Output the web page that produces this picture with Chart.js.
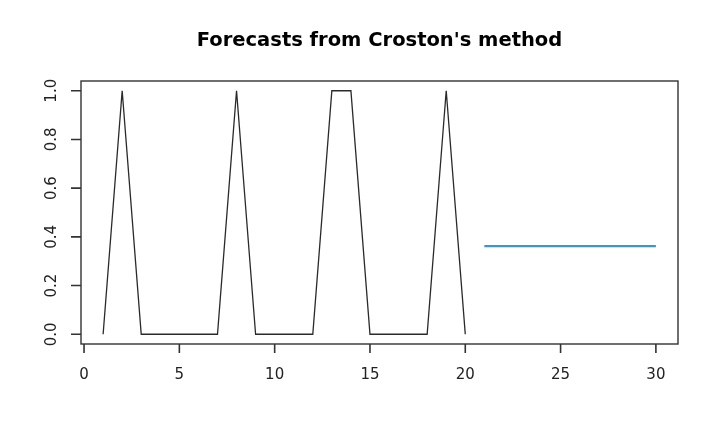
<!DOCTYPE html>
<html lang="en">
<head>
    <meta charset="UTF-8">
    <title>Forecasts from Croston's method</title>
    <script src="https://cdn.jsdelivr.net/npm/chart.js@4.4.1/dist/chart.umd.min.js"></script>
</head>
<style>
    html, body {
        margin: 0;
        padding: 0;
        background: #ffffff;
    }
    .wrap {
        position: relative;
        width: 720px;
        height: 445px;
    }
</style>
<body>
    <div class="wrap">
        <canvas id="myChart" width="720" height="445"></canvas>
    </div>

    <script>
        // observed series (t = 1..20)
        const timeObs = [1,2,3,4,5,6,7,8,9,10,11,12,13,14,15,16,17,18,19,20]
        const valuesObs = [0,1,0,0,0,0,0,1,0,0,0,0,1,1,0,0,0,0,1,0]
        // forecast (t = 21..30)
        const timeFc = [21,22,23,24,25,26,27,28,29,30]
        const valuesFc = [0.362,0.362,0.362,0.362,0.362,0.362,0.362,0.362,0.362,0.362]

        const xTicks = [0,5,10,15,20,25,30]
        const yTicks = [0,0.2,0.4,0.6,0.8,1.0]
        const title = "Forecasts from Croston's method"

        const toPoints = (xs, ys) => xs.map((x, i) => ({ x: x, y: ys[i] }))

        const family = "'DejaVu Sans', sans-serif"

        // R style box, axis lines, tick marks, rotated y labels and the title
        const rFrame = {
            id: 'rFrame',
            afterDraw: (chart) => {
                const ctx = chart.ctx
                const a = chart.chartArea
                const sx = chart.scales.x
                const sy = chart.scales.y
                ctx.save()
                ctx.strokeStyle = '#333333'
                ctx.lineWidth = 1.4
                ctx.strokeRect(a.left, a.top, a.right - a.left, a.bottom - a.top)

                ctx.lineWidth = 1.6
                ctx.beginPath()
                xTicks.forEach(v => {
                    const px = sx.getPixelForValue(v)
                    ctx.moveTo(px, a.bottom)
                    ctx.lineTo(px, a.bottom + 9)
                })
                yTicks.forEach(v => {
                    const py = sy.getPixelForValue(v)
                    ctx.moveTo(a.left, py)
                    ctx.lineTo(a.left - 10, py)
                })
                ctx.stroke()

                ctx.fillStyle = '#222222'
                ctx.font = `15px ${family}`
                ctx.textAlign = 'center'
                ctx.textBaseline = 'middle'
                yTicks.forEach(v => {
                    ctx.save()
                    ctx.translate(a.left - 29, sy.getPixelForValue(v))
                    ctx.rotate(-Math.PI / 2)
                    ctx.fillText(v.toFixed(1), 0, 0)
                    ctx.restore()
                })

                ctx.fillStyle = '#000000'
                ctx.font = `bold 19.5px ${family}`
                ctx.fillText(title, (a.left + a.right) / 2, 41)
                ctx.restore()
            }
        }

        const chart = new Chart("myChart", {
            type: "line",
            data: {
                datasets: [{
                    label: 'observed',
                    data: toPoints(timeObs, valuesObs),
                    borderColor: "#2a2a2a",
                    borderWidth: 1.3,
                    pointRadius: 0,
                    tension: 0,
                    fill: false
                }, {
                    label: 'forecast',
                    data: toPoints(timeFc, valuesFc),
                    borderColor: "#3a96cf",
                    borderWidth: 2.2,
                    pointRadius: 0,
                    tension: 0,
                    fill: false
                }]
            },
            options: {
                responsive: false,
                animation: false,
                devicePixelRatio: 1,
                layout: {
                    padding: { top: 81, right: 42, bottom: 0, left: 0 }
                },
                plugins: {
                    legend: { display: false },
                    tooltip: { enabled: false },
                    title: { display: false }
                },
                scales: {
                    x: {
                        type: 'linear',
                        min: -0.16,
                        max: 31.16,
                        afterBuildTicks: (scale) => {
                            scale.ticks = xTicks.map(v => ({ value: v }))
                        },
                        afterFit: (scale) => { scale.height = 101 },
                        grid: { display: false },
                        border: { display: false },
                        ticks: {
                            color: '#222222',
                            font: { family: family, size: 15 },
                            padding: 14,
                            maxRotation: 0,
                            minRotation: 0
                        }
                    },
                    y: {
                        type: 'linear',
                        min: -0.04,
                        max: 1.04,
                        afterBuildTicks: (scale) => {
                            scale.ticks = yTicks.map(v => ({ value: v }))
                        },
                        afterFit: (scale) => { scale.width = 81 },
                        grid: { display: false },
                        border: { display: false },
                        ticks: { display: false }
                    }
                }
            },
            plugins: [rFrame]
        })
    </script>
</body>
</html>
